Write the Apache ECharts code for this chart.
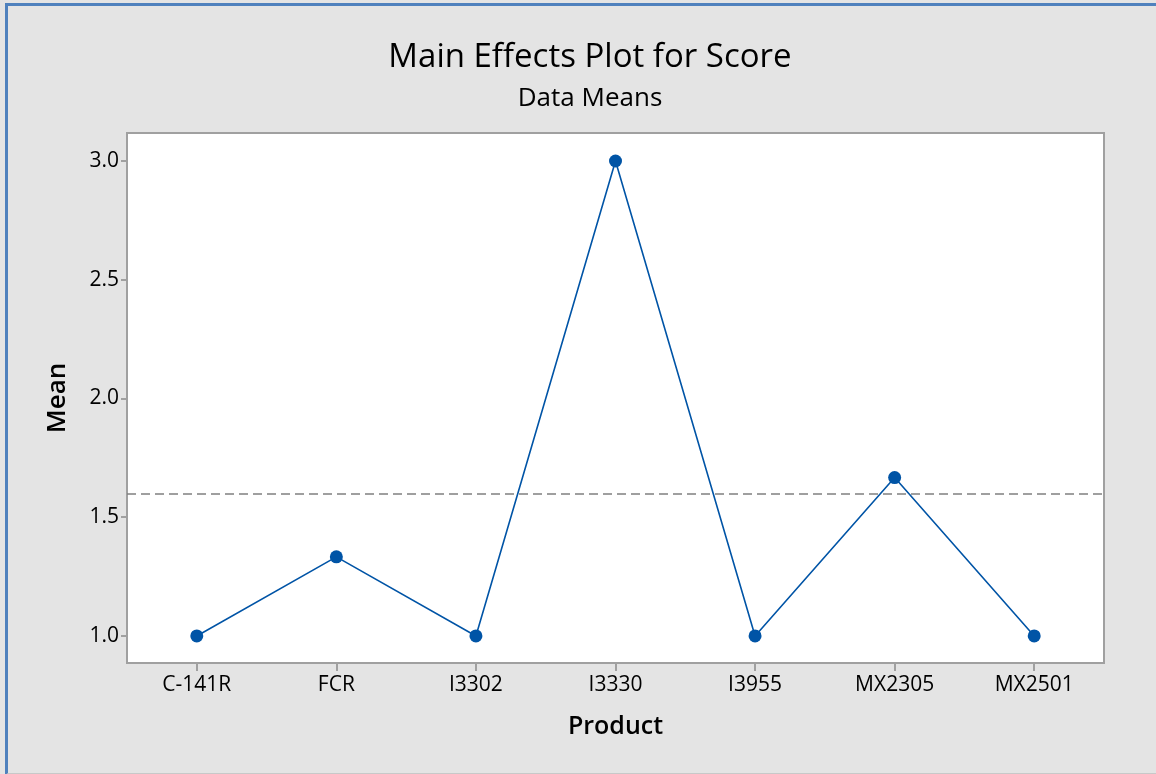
<!DOCTYPE html>
<html>
<head>
<meta charset="utf-8">
<script src="https://cdn.jsdelivr.net/npm/echarts@6/dist/echarts.min.js"></script>
<style>
html,body{margin:0;padding:0;background:#e4e4e4;}
#main{position:absolute;left:0;top:0;width:1156px;height:774px;}
#frame{position:absolute;left:5px;top:3px;width:1151px;height:767px;border-left:3px solid #4f81bd;border-top:3px solid #4f81bd;border-bottom:2px solid #c8c8c8;pointer-events:none;}
</style>
</head>
<body>
<div id="main"></div>
<div id="frame"></div>
<script>
// product categories and mean scores
var products = ['C-141R', 'FCR', 'I3302', 'I3330', 'I3955', 'MX2305', 'MX2501'];
var means = [1.0, 1.333, 1.0, 3.0, 1.0, 1.667, 1.0];
var grandMean = 1.6;
var yTicks = [1.0, 1.5, 2.0, 2.5, 3.0];

var font = '"Open Sans", "Noto Sans", sans-serif';
var myChart = echarts.init(document.getElementById('main'));

var option = {
    backgroundColor: '#e4e4e4',
    title: [
        {
            text: 'Main Effects Plot for Score',
            left: 585, top: 36, textAlign: 'center',
            textStyle: {fontFamily: font, fontSize: 33, fontWeight: 'normal', color: '#000'}
        },
        {
            text: 'Data Means',
            left: 585, top: 81, textAlign: 'center',
            textStyle: {fontFamily: font, fontSize: 26, fontWeight: 'normal', color: '#000'}
        }
    ],
    grid: {
        left: 127, right: 52, top: 133, bottom: 111,
        show: true, backgroundColor: '#fff', borderColor: '#a0a0a0', borderWidth: 2
    },
    xAxis: {
        type: 'category',
        data: products,
        boundaryGap: true,
        name: 'Product',
        nameLocation: 'middle',
        nameGap: 51,
        nameTextStyle: {fontFamily: font, fontSize: 25, fontWeight: 600, color: '#000'},
        axisLine: {show: false},
        axisTick: {show: true, alignWithLabel: true, length: 8, lineStyle: {color: '#a0a0a0', width: 2}},
        axisLabel: {fontFamily: font, fontSize: 21, color: '#000', margin: 12},
        splitLine: {show: false}
    },
    yAxis: {
        type: 'value',
        min: 0.886,
        max: 3.118,
        name: 'Mean',
        nameLocation: 'middle',
        nameGap: 56,
        nameTextStyle: {fontFamily: font, fontSize: 26, fontWeight: 600, color: '#000'},
        axisLine: {show: false},
        axisTick: {show: true, length: 6, customValues: yTicks, lineStyle: {color: '#a0a0a0', width: 2}},
        axisLabel: {
            fontFamily: font, fontSize: 21, color: '#000', margin: 8,
            customValues: yTicks,
            formatter: function(v){ return v.toFixed(1); }
        },
        splitLine: {show: false}
    },
    series: [
        {
            type: 'line',
            data: means,
            symbol: 'circle',
            symbolSize: 13,
            itemStyle: {color: '#0054a6'},
            lineStyle: {color: '#0054a6', width: 1.6},
            markLine: {
                silent: true,
                symbol: 'none',
                label: {show: false},
                lineStyle: {color: '#808080', type: [9, 5], width: 1.5},
                data: [{yAxis: grandMean}]
            }
        }
    ]
};
myChart.setOption(option);
</script>
</body>
</html>
